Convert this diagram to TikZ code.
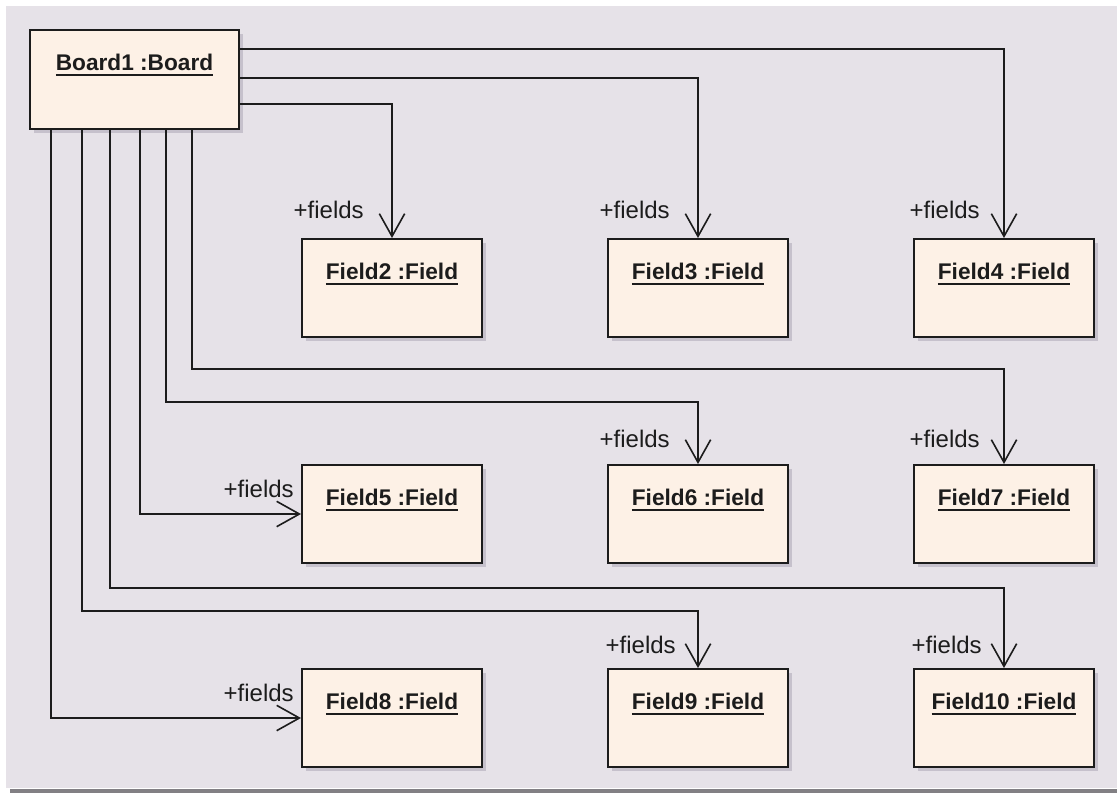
\documentclass[tikz,border=0pt]{standalone}
\usepackage{fontspec}
\setmainfont{Liberation Sans}
\usetikzlibrary{arrows.meta,calc,shadows}
\definecolor{paneBg}{RGB}{230,226,232}
\definecolor{paneEdge}{RGB}{130,128,132}
\definecolor{boxFill}{RGB}{253,241,230}
\definecolor{boxShadow}{RGB}{198,193,204}
\definecolor{ink}{RGB}{28,28,28}
% underlined object name, rule drawn a fixed distance under the baseline
\newcommand\ulname[1]{\setbox0\hbox{#1}\rlap{\rule[-4pt]{\wd0}{1.1pt}}\box0}
\begin{document}
\begin{tikzpicture}[x=0.75pt,y=-0.75pt,
  objbox/.style={draw=ink, line width=1.5pt, fill=boxFill, inner sep=0pt,
    minimum width=135pt, minimum height=73.5pt,
    drop shadow={shadow xshift=3pt, shadow yshift=-3pt, fill=boxShadow, opacity=1}},
  objname/.style={anchor=base, yshift=-31pt, text=ink,
    font=\fontsize{17pt}{20pt}\selectfont\bfseries},
  role/.style={text=ink, font=\fontsize{18pt}{21pt}\selectfont, inner sep=0pt},
  assoc/.style={draw=ink, line width=1.2pt,
    -{Straight Barb[length=17pt, width=19pt, line width=1.2pt]}}]

\useasboundingbox (0,0) rectangle (1117,793);
\fill[white] (0,0) rectangle (1117,793);
\fill[paneBg] (6,6) rectangle (1117,788);
\fill[paneEdge] (10,789) rectangle (1117,793);

% objects
\node[objbox, minimum width=156.75pt, minimum height=74.25pt,
  label={[objname]north:\ulname{Board1 :Board}}] (b) at (134.5,79.5) {};

\node[objbox, label={[objname]north:\ulname{Field2 :Field}}] (f2) at (392,288) {};
\node[objbox, label={[objname]north:\ulname{Field3 :Field}}] (f3) at (698,288) {};
\node[objbox, label={[objname]north:\ulname{Field4 :Field}}] (f4) at (1004,288) {};
\node[objbox, label={[objname]north:\ulname{Field5 :Field}}] (f5) at (392,514) {};
\node[objbox, label={[objname]north:\ulname{Field6 :Field}}] (f6) at (698,514) {};
\node[objbox, label={[objname]north:\ulname{Field7 :Field}}] (f7) at (1004,514) {};
\node[objbox, label={[objname]north:\ulname{Field8 :Field}}] (f8) at (392,718) {};
\node[objbox, label={[objname]north:\ulname{Field9 :Field}}] (f9) at (698,718) {};
\node[objbox, label={[objname]north:\ulname{Field10 :Field}}] (f10) at (1004,718) {};

% links leaving the right side of the board
\draw[assoc] ($(b.north east)+(0,20)$) -| (f4.north);
\draw[assoc] ($(b.north east)+(0,49)$) -| (f3.north);
\draw[assoc] ($(b.north east)+(0,75)$) -| (f2.north);

% links leaving the bottom of the board
\draw[assoc] ($(b.south west)+(22,0)$) |- (f8.west);
\draw[assoc] ($(b.south west)+(53,0)$) |- ($(f9.north)+(0,-57)$) -- (f9.north);
\draw[assoc] ($(b.south west)+(81,0)$) |- ($(f10.north)+(0,-80)$) -- (f10.north);
\draw[assoc] ($(b.south west)+(111,0)$) |- (f5.west);
\draw[assoc] ($(b.south west)+(137,0)$) |- ($(f6.north)+(0,-62)$) -- (f6.north);
\draw[assoc] ($(b.south west)+(163,0)$) |- ($(f7.north)+(0,-95)$) -- (f7.north);

% role names at the navigable ends
\node[role, anchor=base east] (r2) at ($(f2.north)+(-28,-20)$) {+fields};
\node[role, anchor=base east] (r3) at ($(f3.north)+(-28,-20)$) {+fields};
\node[role, anchor=base east] (r4) at ($(f4.north)+(-24,-20)$) {+fields};
\node[role, anchor=base east] (r6) at ($(f6.north)+(-28,-17)$) {+fields};
\node[role, anchor=base east] (r7) at ($(f7.north)+(-24,-17)$) {+fields};
\node[role, anchor=base east] (r9) at ($(f9.north)+(-22,-15)$) {+fields};
\node[role, anchor=base east] (r10) at ($(f10.north)+(-22,-15)$) {+fields};
\node[role, anchor=base east] (r5) at ($(f5.west)+(-7,-17)$) {+fields};
\node[role, anchor=base east] (r8) at ($(f8.west)+(-7,-17)$) {+fields};
\end{tikzpicture}
\end{document}
